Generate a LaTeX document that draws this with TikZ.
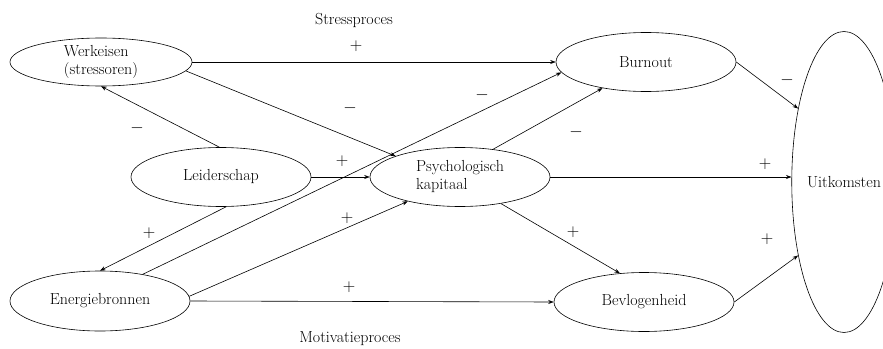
\documentclass[tikz,border=0pt]{standalone}
\usepackage{tikz}
\usetikzlibrary{shapes.geometric,arrows.meta}
\tikzstyle{factor} = [draw=black, ellipse, line width=0.6pt, minimum width=180pt,
    minimum height=59pt, inner sep=0pt, align=left,
    font=\fontsize{16}{18}\selectfont]
\tikzstyle{effect} = [line width=0.6pt, -{Stealth[length=5.5pt,width=4pt]}]
\tikzstyle{sign} = [inner sep=0pt, font=\fontsize{16}{16}\selectfont]
\tikzstyle{caption} = [inner sep=0pt, font=\fontsize{16}{18}\selectfont]

\begin{document}
\begin{tikzpicture}[x=1pt,y=-1pt]
\useasboundingbox (0,0) rectangle (883,348);
% factoren
\node [factor, minimum width=182pt, minimum height=48pt] (werk) at (101,62) {Werkeisen\\(stressoren)};
\node [factor] (leid) at (221,177) {Leiderschap};
\node [factor] (psy) at (460,177) {Psychologisch\\kapitaal};
\node [factor, minimum height=60pt] (ener) at (100,301) {Energiebronnen};
\node [factor] (burn) at (646,62) {Burnout};
\node [factor] (bevl) at (644,302) {Bevlogenheid};
\node [factor, minimum width=104pt, minimum height=301pt] (uit) at (844,182) {Uitkomsten};

% pijlen
\draw [effect] (werk.east) -- (burn.west);
\draw [effect] (werk.-6) -- (psy.162);
\draw [effect] (leid.93) -- (werk.south);
\draw [effect] (leid.east) -- (psy.west);
\draw [effect] (leid.-80) -- (ener.north);
\draw [effect] (ener.32) -- (burn.187);
\draw [effect] (ener.3) -- (psy.205);
\draw [effect] (ener.east) -- (bevl.west);
\draw [effect] (psy.40) -- (burn.211);
\draw [effect] (psy.east) -- (psy.east -| uit.west);
\draw [effect] (psy.-33) -- (bevl.130);
\draw [effect] (burn.east) -- (uit.122.6);
\draw [effect] (bevl.east) -- (uit.238.8);

% tekens
\node [sign] (s1) at (356,46) {$+$};
\node [sign] (s2) at (350,108) {$-$};
\node [sign] (s3) at (137,128) {$-$};
\node [sign] (s4) at (342,161) {$+$};
\node [sign] (s5) at (149,233) {$+$};
\node [sign] (s6) at (347,218) {$+$};
\node [sign] (s7) at (349,287) {$+$};
\node [sign] (s8) at (482,95) {$-$};
\node [sign] (s9) at (576,132) {$-$};
\node [sign] (s10) at (765,164) {$+$};
\node [sign] (s11) at (787,80) {$-$};
\node [sign] (s12) at (573,232) {$+$};
\node [sign] (s13) at (767,239) {$+$};

\node [caption] (stress) at (354,20) {Stressproces};
\node [caption] (motiv) at (350,339) {Motivatieproces};
\end{tikzpicture}
\end{document}
